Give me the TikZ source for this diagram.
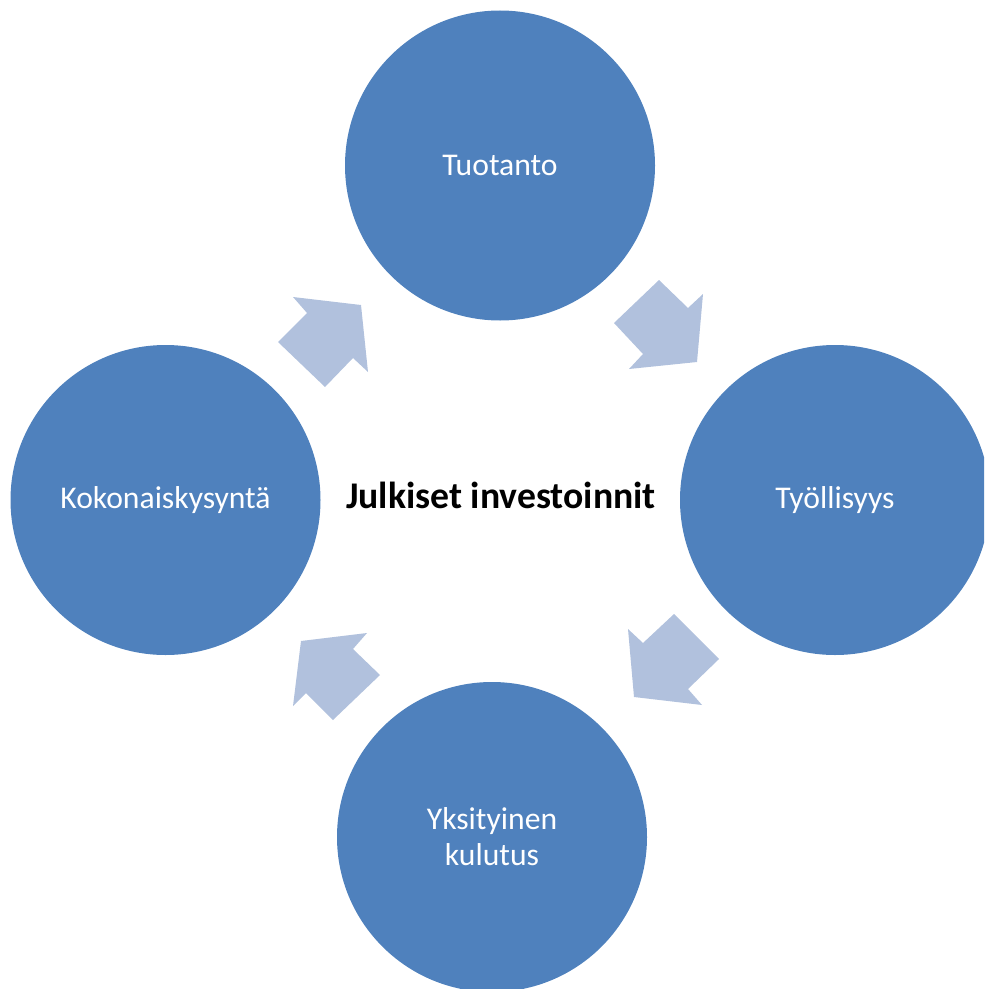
\documentclass[tikz,border=0pt]{standalone}
\usepackage{fontspec}
\setmainfont{Carlito}
\definecolor{circblue}{RGB}{79,129,189}
\definecolor{arrowblue}{RGB}{177,193,221}
\begin{document}
\begin{tikzpicture}[x=0.25mm,y=-0.25mm,
  bubble/.style={circle,fill=circblue,minimum size=310*0.25mm,inner sep=0pt,
    text=white,align=center,font=\fontsize{22.5}{25.5}\selectfont},
  cyclearrow/.style={fill=arrowblue},
  centertext/.style={font=\fontsize{26.8}{30}\selectfont\bfseries,text=black}]
\useasboundingbox (0,0) rectangle (984,989);
\clip (0,0) rectangle (984,989);
\node[bubble] (tuo) at (500,165.5) {Tuotanto};
\node[bubble] (tyo) at (835,500) {Työllisyys};
\node[bubble] (yks) at (492,837) {Yksityinen\\kulutus};
\node[bubble] (kok) at (165.5,500) {Kokonaiskysyntä};
\node[centertext] (jul) at (501,495) {Julkiset investoinnit};
% block arrows of the cycle
\fill[cyclearrow] (614,323) -- (659,280) -- (688,308) -- (703,294) -- (697,362) -- (629,369) -- (643,354) -- cycle;
\fill[cyclearrow] (674,614) -- (719,659) -- (688,689) -- (702,705) -- (634,697) -- (628,629) -- (643,643) -- cycle;
\fill[cyclearrow] (380,675) -- (333,720) -- (306,693) -- (293,706) -- (301,641) -- (367,633) -- (353,649) -- cycle;
\fill[cyclearrow] (278,342) -- (307,313) -- (293,297) -- (361,305) -- (368,372) -- (353,358) -- (325,387) -- cycle;
\end{tikzpicture}
\end{document}
